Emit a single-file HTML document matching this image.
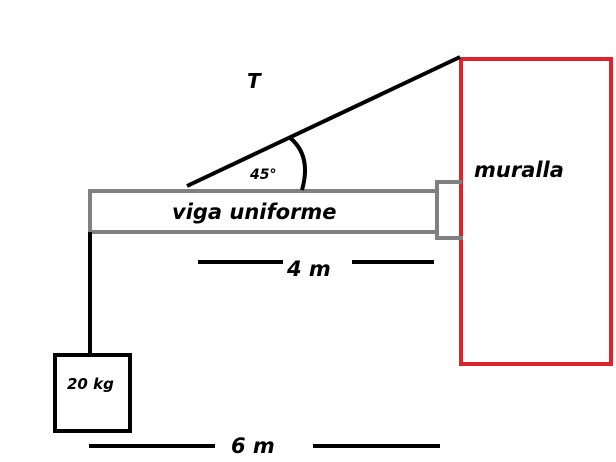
<!DOCTYPE html>
<html><head><style>body{margin:0;background:#fff}svg{display:block}text{font-family:"DejaVu Sans","Liberation Sans",sans-serif;font-style:italic;font-weight:bold;fill:#000}</style></head>
<body><svg width="616" height="462" viewBox="0 0 616 462">
<rect x="461" y="59" width="150" height="305" fill="none" stroke="#e0222a" stroke-width="4"/>
<rect x="90" y="191" width="347" height="41" fill="none" stroke="#808080" stroke-width="4"/>
<polyline points="462,182 437,182 437,238 463,238" fill="none" stroke="#808080" stroke-width="4"/>
<line x1="187" y1="186" x2="460" y2="57" stroke="#000" stroke-width="4"/>
<path d="M289,137 Q312,155 302,190" fill="none" stroke="#000" stroke-width="4"/>
<line x1="90" y1="232" x2="90" y2="354" stroke="#000" stroke-width="4"/>
<rect x="55" y="355" width="75" height="76" fill="none" stroke="#000" stroke-width="4"/>
<line x1="198" y1="262" x2="283" y2="262" stroke="#000" stroke-width="4"/>
<line x1="352" y1="262" x2="434" y2="262" stroke="#000" stroke-width="4"/>
<line x1="89" y1="446" x2="215" y2="446" stroke="#000" stroke-width="4"/>
<line x1="313" y1="446" x2="440" y2="446" stroke="#000" stroke-width="4"/>
<text x="247" y="88" font-size="20">T</text>
<text x="250" y="179" font-size="14" font-style="normal" font-weight="normal">45°</text>
<text x="172" y="219" font-size="21">viga uniforme</text>
<text x="474" y="177" font-size="21">muralla</text>
<text x="287" y="276" font-size="21">4 m</text>
<text x="231" y="453" font-size="21">6 m</text>
<text x="67" y="389" font-size="15">20 kg</text>
</svg></body></html>
